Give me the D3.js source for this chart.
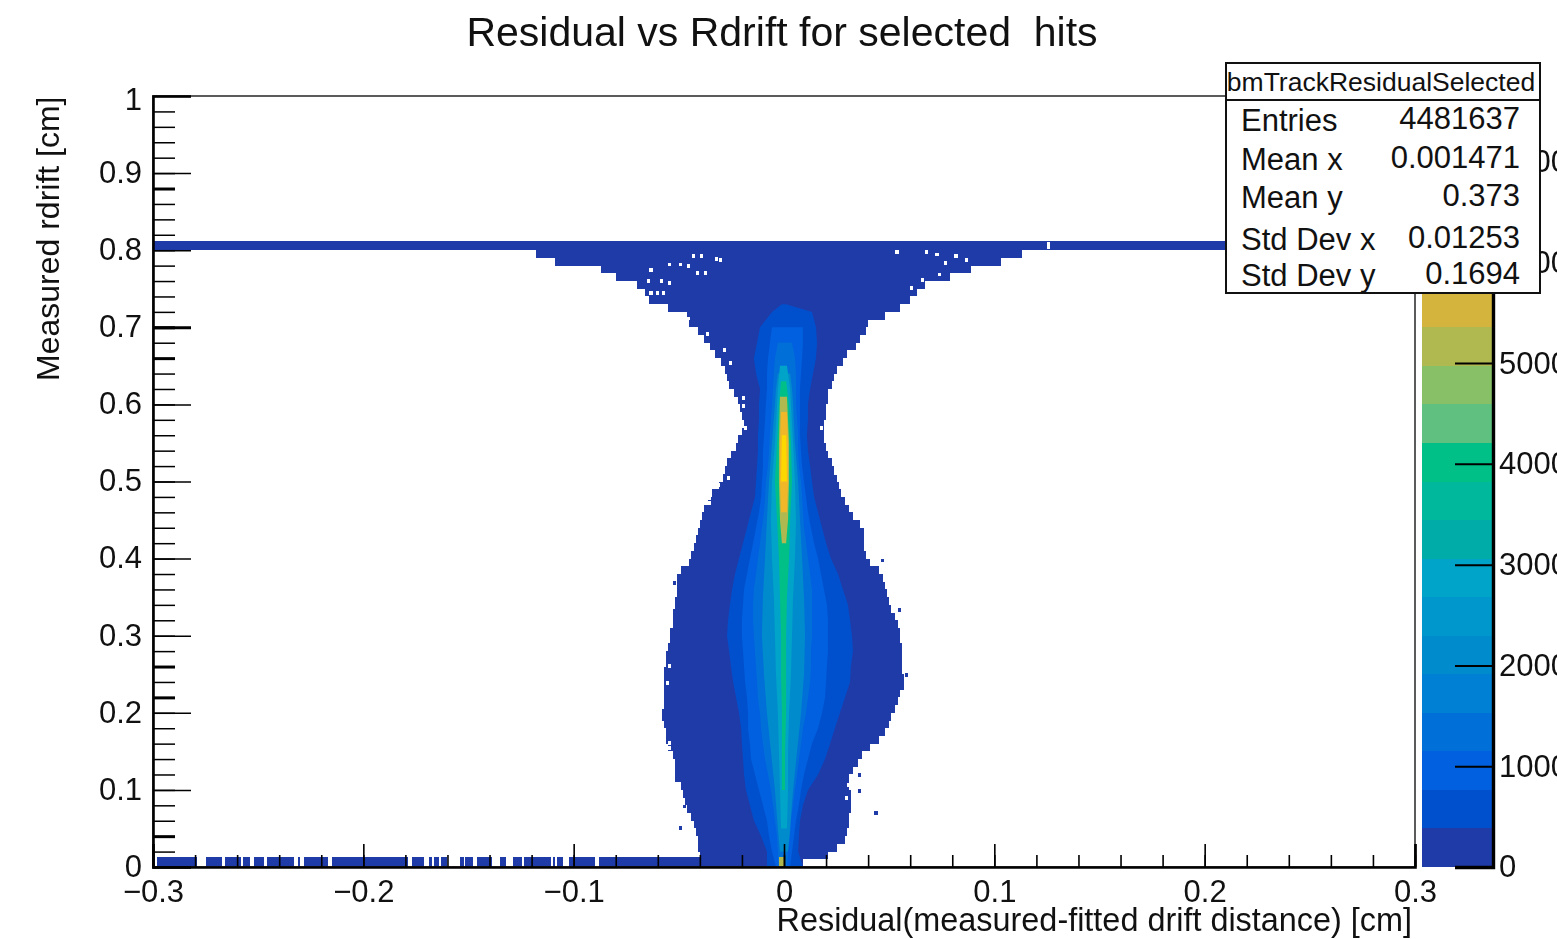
<!DOCTYPE html>
<html>
<head>
<meta charset="utf-8">
<script src="https://cdn.jsdelivr.net/npm/d3@7"></script>
<style>
html, body { margin: 0; padding: 0; background: #fff; overflow: hidden; }
svg { filter: blur(.5px); }
text { font-family: "Liberation Sans", Arial, sans-serif; fill: #111; }
</style>
</head>
<body>
<div id="chart"></div>
<script>
// outer edge of the filled region, one row per 0.01 cm: [rdrift, left, right]
const outerRows = [
  [.80,-.118,.113],[.79,-.109,.103],[.78,-.087,.089],[.77,-.080,.079],[.76,-.070,.067],[.75,-.066,.063],
  [.74,-.064,.060],[.73,-.055,.055],[.72,-.046,.048],[.71,-.045,.040],[.70,-.041,.039],[.69,-.038,.036],
  [.68,-.035,.034],[.67,-.033,.030],[.66,-.030,.028],[.65,-.028,.025],[.64,-.027,.024],[.63,-.026,.023],
  [.62,-.024,.021],[.61,-.022,.021],[.60,-.021,.020],[.59,-.020,.020],[.58,-.019,.019],[.57,-.020,.019],
  [.56,-.022,.019],[.55,-.023,.020],[.54,-.025,.021],[.53,-.027,.023],[.52,-.028,.024],[.51,-.029,.025],
  [.50,-.031,.026],[.49,-.034,.027],[.48,-.036,.029],[.47,-.038,.031],[.46,-.039,.033],[.45,-.040,.036],
  [.44,-.041,.038],[.43,-.042,.038],[.42,-.043,.038],[.41,-.044,.039],[.40,-.045,.041],[.39,-.049,.045],
  [.38,-.051,.047],[.37,-.051,.048],[.36,-.051,.049],[.35,-.052,.050],[.34,-.052,.051],[.33,-.053,.053],
  [.32,-.053,.054],[.31,-.054,.055],[.30,-.054,.055],[.29,-.055,.056],[.28,-.056,.056],[.27,-.056,.056],
  [.26,-.057,.056],[.25,-.057,.057],[.24,-.057,.057],[.23,-.057,.055],[.22,-.057,.054],[.21,-.057,.053],
  [.20,-.058,.051],[.19,-.057,.050],[.18,-.056,.048],[.17,-.056,.045],[.16,-.055,.041],[.15,-.053,.037],
  [.14,-.052,.035],[.13,-.052,.033],[.12,-.052,.031],[.11,-.049,.031],[.10,-.048,.032],[.09,-.047,.032],
  [.08,-.046,.032],[.07,-.044,.031],[.06,-.043,.031],[.05,-.042,.030],[.04,-.041,.029],[.03,-.041,.025],
  [.02,-.040,.021]
]

// empty bins inside the outline and lone filled bins outside it: [residual, rdrift]
const emptyBins = [
  [-.0437,.790],[-.040,.790],[-.033,.786],[-.031,.785],[-.064,.772],[-.055,.779],[-.050,.779],[-.046,.777],
  [-.042,.768],[-.038,.768],[-.065,.757],[-.059,.757],[-.055,.755],[-.064,.742],[-.061,.742],[-.058,.742],
  [-.046,.709],[-.037,.689],[-.029,.668],[-.026,.651],[-.020,.606],[-.020,.595],[-.019,.567],[-.027,.502],
  [-.032,.493],[-.036,.476],[-.036,.470],[.053,.795],[.067,.795],[.072,.792],[.081,.790],[.086,.785],
  [.076,.781],[.073,.766],[.065,.759],[.060,.748],[.020,.593],[.017,.567],[.024,.508],[.034,.458],
  [-.055,.258],[-.056,.236],[-.055,.152],[-.055,.158],[-.046,.057],[.030,.104],[.029,.087],
  [.125,.801],[.125,.806]
]
const loneBins = [
  [-.058,.200],[-.050,.048],[.043,.067],[.0575,.246],[.046,.395],[.054,.331],[-.053,.366],[-.053,.329],
  [.035,.117],[.035,.096],[-.048,.076],[.027,.078]
]

// gaps in the rdrift = 0 row: [from, to]
const bottomGaps = [
  [-.279,-.275],[-.267,-.266],[-.258,-.257],[-.254,-.252],[-.247,-.246],[-.233,-.231],[-.230,-.228],[-.217,-.215],
  [-.179,-.177],[-.171,-.169],[-.1675,-.1665],[-.164,-.163],[-.160,-.154],[-.152,-.1515],[-.148,-.146],[-.139,-.135],
  [-.132,-.129],[-.1245,-.1235],[-.111,-.110],[-.109,-.108],[-.105,-.102],[-.090,-.088]
]

// contours of the core, lowest count first: [rdrift, left, right]
const level1 = [
  [.73,-.0010,.0010],[.72,-.0057,.0133],[.70,-.0114,.0152],[.68,-.0128,.0157],[.66,-.0143,.0152],[.64,-.0133,.0138],[.62,-.0114,.0124],
  [.60,-.0119,.0114],[.58,-.0119,.0114],[.56,-.0124,.0109],[.54,-.0124,.0114],[.52,-.0128,.0124],[.50,-.0133,.0133],
  [.48,-.0138,.0143],[.46,-.0157,.0162],[.44,-.0176,.0181],[.42,-.0195,.0200],[.40,-.0214,.0223],[.38,-.0233,.0257],
  [.36,-.0247,.0280],[.34,-.0257,.0304],[.32,-.0266,.0314],[.30,-.0271,.0323],[.28,-.0261,.0328],[.26,-.0252,.0318],
  [.24,-.0242,.0314],[.22,-.0228,.0290],[.20,-.0214,.0266],[.18,-.0204,.0242],[.16,-.0200,.0219],[.14,-.0195,.0195],
  [.12,-.0190,.0162],[.10,-.0181,.0114],[.08,-.0162,.0090],[.06,-.0143,.0076],[.04,-.0109,.0071],[.02,-.0081,.0067],
  [0,-.0081,.0090]
]
const level2 = [
  [.70,-.0057,.0090],[.68,-.0067,.0090],[.66,-.0076,.0086],[.64,-.0081,.0081],[.62,-.0081,.0076],[.60,-.0086,.0076],
  [.58,-.0090,.0076],[.56,-.0095,.0076],[.54,-.0100,.0081],[.52,-.0100,.0086],[.50,-.0105,.0095],[.48,-.0109,.0105],
  [.46,-.0119,.0114],[.44,-.0133,.0128],[.42,-.0147,.0143],[.40,-.0162,.0162],[.38,-.0176,.0176],[.36,-.0190,.0190],
  [.34,-.0195,.0204],[.32,-.0200,.0209],[.30,-.0200,.0209],[.28,-.0195,.0209],[.26,-.0190,.0204],[.24,-.0185,.0200],
  [.22,-.0176,.0195],[.20,-.0171,.0181],[.18,-.0171,.0162],[.16,-.0162,.0133],[.14,-.0157,.0114],[.12,-.0138,.0095],
  [.10,-.0119,.0081],[.08,-.0100,.0071],[.06,-.0081,.0057],[.04,-.0071,.0048],[.02,-.0057,.0038],[0,-.0038,.0029]
]
const level3 = [
  [.68,-.0029,.0038],[.66,-.0043,.0052],[.64,-.0048,.0057],[.62,-.0052,.0057],[.60,-.0057,.0057],[.58,-.0062,.0062],
  [.56,-.0067,.0067],[.54,-.0071,.0067],[.52,-.0076,.0071],[.50,-.0086,.0081],[.48,-.0090,.0086],[.46,-.0095,.0090],
  [.44,-.0105,.0095],[.42,-.0114,.0105],[.40,-.0124,.0114],[.38,-.0133,.0124],[.36,-.0143,.0133],[.34,-.0147,.0133],
  [.32,-.0147,.0133],[.30,-.0143,.0133],[.28,-.0138,.0128],[.26,-.0133,.0128],[.24,-.0128,.0124],[.22,-.0124,.0114],
  [.20,-.0114,.0105],[.18,-.0109,.0090],[.16,-.0100,.0081],[.14,-.0090,.0071],[.12,-.0076,.0062],[.10,-.0062,.0052],
  [.08,-.0052,.0043],[.06,-.0043,.0033],[.04,-.0033,.0029],[.02,-.0029,.0019],[0,-.0024,.0014]
]
const level4 = [
  [.64,-.0029,.0029],[.62,-.0038,.0038],[.60,-.0043,.0043],[.55,-.0057,.0052],[.50,-.0071,.0067],[.45,-.0081,.0076],
  [.40,-.0090,.0086],[.35,-.0100,.0095],[.30,-.0105,.0100],[.25,-.0095,.0095],[.20,-.0081,.0081],[.15,-.0062,.0062],
  [.10,-.0043,.0043],[.05,-.0029,.0029],[.02,-.0019,.0019]
]
const level5 = [
  [.65,-.0019,.0014],[.62,-.0029,.0029],[.60,-.0033,.0033],[.55,-.0043,.0043],[.50,-.0057,.0052],[.45,-.0062,.0057],
  [.40,-.0057,.0052],[.35,-.0048,.0043],[.30,-.0043,.0038],[.25,-.0038,.0033],[.20,-.0029,.0024],[.15,-.0024,.0019],
  [.10,-.0019,.0019],[.05,-.0014,.0014]
]
const level6 = [
  [.63,-.0014,.0010],[.60,-.0024,.0024],[.55,-.0033,.0033],[.50,-.0043,.0038],[.45,-.0033,.0029],[.40,-.0024,.0024],
  [.35,-.0019,.0014],[.30,-.0014,.0010],[.25,-.0014,.0010],[.20,-.0010,.0010],[.15,-.0010,.0005],[.10,-.0010,.0005]
]
const level7 = [[.61,-.0019,.0014],[.55,-.0024,.0024],[.50,-.0024,.0024],[.45,-.0019,.0019],[.42,-.0010,.0010]]
const level8 = [[.59,-.0014,.0014],[.55,-.0019,.0019],[.50,-.0019,.0019],[.46,-.0014,.0014]]
const level9 = [[.56,-.0010,.0010],[.50,-.0014,.0014]]

const coreLevels = [level1, level2, level3, level4, level5, level6, level7, level8, level9]
const coreBands = [1, 2, 3, 5, 7, 10, 13, 15, 18]

// colour bar, one colour per 382.5 entries
const palette = ['#1f3ba8','#0050cd','#0060df','#0070d8','#0080d4','#008ccc','#0098cc','#00a4c8','#00aca8','#00b89c',
                 '#00c088','#60c080','#88c068','#b0b850','#d4b43c','#f0b828','#f8c820','#fcd010','#fdd800','#fee000']
const zMax = 7650
const zTicks = [0, 1000, 2000, 3000, 4000, 5000, 6000, 7000]

const xTicks = [-.3, -.2, -.1, 0, .1, .2, .3]
const yTicks = [0, .1, .2, .3, .4, .5, .6, .7, .8, .9, 1]
const heavyYTicks = [.04, .22, .26, .66, .7, .88]

const statsNames = ['Entries', 'Mean x', 'Mean y', 'Std Dev x', 'Std Dev y']
const statsValues = ['4481637', '0.001471', '0.373', '0.01253', '0.1694']

const chartW = 1557, chartH = 939
const plotLeft = 153, plotRight = 1415, plotTop = 96, plotBottom = 867
const binW = .0015, binH = .005
const labelFont = '"Liberation Sans", Arial, sans-serif'

const svg = d3.select('#chart').append('svg').attr('width', chartW).attr('height', chartH)

const xScale = d3.scaleLinear().domain([-.3, .3]).range([plotLeft, plotRight])
const yScale = d3.scaleLinear().domain([0, 1]).range([plotBottom, plotTop])
const zScale = d3.scaleLinear().domain([0, zMax]).range([plotBottom, plotTop])

const fmt = d => d3.format('.1~f')(d).replace('-', '\u2212')

// heat map
const heat = svg.append('g').attr('shape-rendering', 'crispEdges')
const dark = palette[0]

heat.selectAll('.outer').data(outerRows).join('rect').classed('outer', true)
  .attr('x', d => xScale(d[1]))
  .attr('width', d => xScale(d[2]) - xScale(d[1]))
  .attr('y', d => yScale(d[0]))
  .attr('height', d => yScale(d[0] - .01) - yScale(d[0]))
  .attr('fill', dark)

// saturated row at the drift cell edge
heat.append('rect')
  .attr('x', xScale(-.3)).attr('width', xScale(.3) - xScale(-.3))
  .attr('y', yScale(.812)).attr('height', yScale(.8) - yScale(.812))
  .attr('fill', dark)

// row at rdrift = 0, split by its gaps
let bottomSegments = []
let gapStart = -.298
bottomGaps.forEach(g => { bottomSegments.push([gapStart, g[0]]); gapStart = g[1] })
bottomSegments.push([gapStart, .009])
heat.selectAll('.bottom').data(bottomSegments).join('rect').classed('bottom', true)
  .attr('x', d => xScale(d[0]))
  .attr('width', d => xScale(d[1]) - xScale(d[0]))
  .attr('y', yScale(.013))
  .attr('height', yScale(0) - yScale(.013))
  .attr('fill', dark)

heat.selectAll('.lone').data(loneBins).join('rect').classed('lone', true)
  .attr('x', d => xScale(d[0])).attr('y', d => yScale(d[1] + binH))
  .attr('width', xScale(binW) - xScale(0)).attr('height', yScale(0) - yScale(binH))
  .attr('fill', dark)

heat.selectAll('.empty').data(emptyBins).join('rect').classed('empty', true)
  .attr('x', d => xScale(d[0])).attr('y', d => yScale(d[1] + binH))
  .attr('width', xScale(binW) - xScale(0)).attr('height', yScale(0) - yScale(binH))
  .attr('fill', '#fff')

const contour = d3.area()
  .y(d => yScale(d[0]))
  .x0(d => xScale(d[1]))
  .x1(d => xScale(d[2]))

svg.append('g').selectAll('path').data(coreLevels).join('path')
  .attr('d', contour)
  .attr('fill', (d, i) => palette[coreBands[i]])

// hot bin in the rdrift = 0 row
svg.append('rect')
  .attr('x', xScale(-.0024)).attr('width', xScale(0) - xScale(-.0024))
  .attr('y', yScale(.013)).attr('height', yScale(0) - yScale(.013))
  .attr('fill', '#b0b850')

// frame
svg.append('rect')
  .attr('x', plotLeft).attr('y', plotTop)
  .attr('width', plotRight - plotLeft).attr('height', plotBottom - plotTop)
  .attr('fill', 'none').attr('stroke', '#333').attr('stroke-width', 1.6)

// x axis
const xAxisMinor = d3.axisBottom(xScale).tickValues(d3.range(-15, 16).map(d => d * .02)).tickSize(-12).tickFormat('')
const xAxis = d3.axisBottom(xScale).tickValues(xTicks).tickSize(-23).tickPadding(13).tickFormat(fmt)

const gxm = svg.append('g').attr('transform', `translate(0,${plotBottom})`).call(xAxisMinor)
const gx = svg.append('g').attr('transform', `translate(0,${plotBottom})`).call(xAxis)
gxm.select('.domain').remove()
gx.select('.domain').attr('stroke-width', 2.6)
gxm.selectAll('line').attr('stroke', '#000').attr('stroke-width', 1.6)
gx.selectAll('line').attr('stroke', '#000').attr('stroke-width', 1.6)

// y axis
const yAxisMinor = d3.axisLeft(yScale).tickValues(d3.range(1, 50).map(d => d * .02)).tickSize(-22).tickFormat('')
const yAxis = d3.axisLeft(yScale).tickValues(yTicks).tickSize(-38).tickPadding(11).tickFormat(fmt)

const gym = svg.append('g').attr('transform', `translate(${plotLeft},0)`).call(yAxisMinor)
const gy = svg.append('g').attr('transform', `translate(${plotLeft},0)`).call(yAxis)
gym.select('.domain').remove()
gy.select('.domain').attr('stroke-width', 2.6)
gym.selectAll('line').attr('stroke', '#000')
  .attr('stroke-width', d => heavyYTicks.some(t => Math.abs(t - d) < 1e-6) ? 3 : 1.5)
gy.selectAll('line').attr('stroke', '#000')
  .attr('stroke-width', d => d === .7 ? 3 : 1.5)

svg.selectAll('.tick text').attr('font-size', 31).attr('fill', '#111').attr('font-family', labelFont)
gy.selectAll('.tick text').attr('dy', d => d === 1 ? '.45em' : '.3em')

// colour bar
const barX = 1422, barW = 70
svg.append('g').attr('shape-rendering', 'crispEdges')
  .selectAll('rect').data(palette).join('rect')
  .attr('x', barX).attr('width', barW)
  .attr('y', (d, i) => zScale((i + 1) * zMax / palette.length))
  .attr('height', zScale(0) - zScale(zMax / palette.length))
  .attr('fill', d => d)

const zAxis = d3.axisRight(zScale).tickValues(zTicks).tickSize(-38).tickPadding(6).tickFormat(d3.format('d'))
const gz = svg.append('g').attr('transform', `translate(${barX + barW + 1},0)`).call(zAxis)
gz.select('.domain').attr('stroke-width', 3.4).attr('stroke', '#000')
gz.selectAll('line').attr('stroke', '#000').attr('stroke-width', 2)
gz.selectAll('text').attr('font-size', 31).attr('font-family', labelFont).attr('fill', '#111')

// titles
svg.append('text').attr('x', 782).attr('y', 46).attr('text-anchor', 'middle').attr('font-size', 41)
  .style('white-space', 'pre').text('Residual vs Rdrift for selected  hits')
svg.append('text').attr('x', 1412).attr('y', 931).attr('text-anchor', 'end').attr('font-size', 32.4)
  .text('Residual(measured-fitted drift distance) [cm]')
svg.append('text').attr('transform', 'translate(59,381) rotate(-90)').attr('font-size', 32)
  .text('Measured rdrift [cm]')

// stats box
const stats = svg.append('g')
stats.append('rect').attr('x', 1226).attr('y', 63).attr('width', 314).attr('height', 230)
  .attr('fill', '#fff').attr('stroke', '#111').attr('stroke-width', 2)
stats.append('line').attr('x1', 1226).attr('x2', 1540).attr('y1', 100).attr('y2', 100)
  .attr('stroke', '#111').attr('stroke-width', 2)
stats.append('text').attr('x', 1381).attr('y', 91).attr('text-anchor', 'middle').attr('font-size', 26.5)
  .text('bmTrackResidualSelected')
const rowY = d3.scaleOrdinal().domain(statsNames).range([131, 170, 208, 250, 286])
stats.selectAll('.name').data(statsNames).join('text').classed('name', true)
  .attr('x', 1241).attr('y', d => rowY(d)).attr('font-size', 31).text(d => d)
stats.selectAll('.value').data(statsValues).join('text').classed('value', true)
  .attr('x', 1520).attr('y', (d, i) => rowY(statsNames[i]) - 2).attr('text-anchor', 'end').attr('font-size', 31).text(d => d)
</script>
</body>
</html>
